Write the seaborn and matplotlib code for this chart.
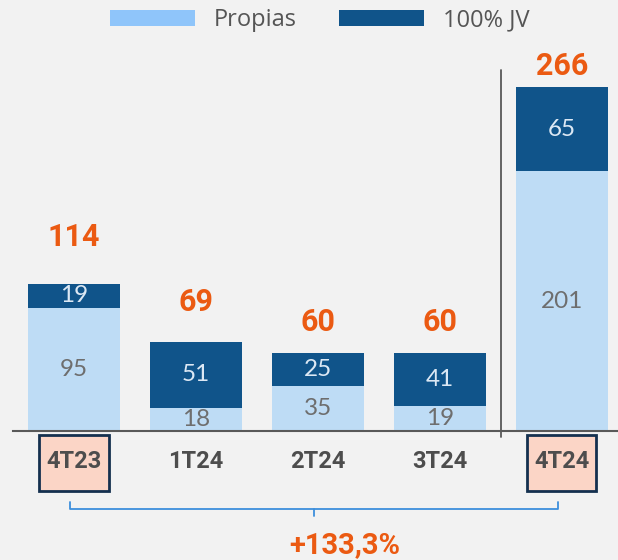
import matplotlib
matplotlib.use("Agg")
import matplotlib.pyplot as plt
from matplotlib.patches import Patch, Rectangle
import seaborn as sns
import pandas as pd

# data
quarters = ["4T23", "1T24", "2T24", "3T24", "4T24"]
propias = [95, 18, 35, 19, 201]
jv = [19, 51, 25, 41, 65]
totals = [114, 69, 60, 60, 266]
growth_label = "+133,3%"

# layout only
total_offsets = [36, 31, 24, 24, 16]
boxed = ["4T23", "4T24"]

BG = "#f2f2f2"
LIGHT = "#bedcf5"
LIGHT_LEG = "#8fc5fa"
DARK = "#10548a"
ORANGE = "#eb5a12"
AXIS = "#595959"
TXT = "#4d4d4d"

sns.set_theme(style="white")
plt.rcParams["font.family"] = ["Roboto", "DejaVu Sans"]

df = pd.DataFrame({"quarter": quarters, "propias": propias, "jv": jv, "total": totals})

fig = plt.figure(figsize=(6.18, 5.6), dpi=100, facecolor=BG)
ax = fig.add_axes([13 / 618, 129 / 560, 605 / 618, 388 / 560])
ax.set_facecolor(BG)

# stacked bars: totals in dark, propias drawn over the bottom part
sns.barplot(data=df, x="quarter", y="total", order=quarters, color=DARK,
            saturation=1, width=0.75, linewidth=0, ax=ax)
sns.barplot(data=df, x="quarter", y="propias", order=quarters, color=LIGHT,
            saturation=1, width=0.75, linewidth=0, ax=ax)

ax.set_xlim(-0.5, 4.46)
ax.set_ylim(0, 300)
ax.set_xlabel("")
ax.set_ylabel("")
ax.set_yticks([])
for s in ["top", "right", "left"]:
    ax.spines[s].set_visible(False)
ax.spines["bottom"].set_color(AXIS)
ax.spines["bottom"].set_linewidth(1.5)

# tick marks between categories, labels at categories
ax.set_xticks([-0.5, 0.5, 1.5, 2.5, 3.5])
ax.set_xticklabels([])
ax.set_xticks(range(len(quarters)), minor=True)
ax.set_xticklabels(quarters, minor=True, fontsize=17, fontweight="bold", color=TXT)
ax.tick_params(axis="x", which="major", direction="out", length=5, width=1.5, color=AXIS)
ax.tick_params(axis="x", which="minor", length=0, pad=14)

# boxes around the compared quarters (below the axis artists)
for q in boxed:
    i = quarters.index(q)
    ax.add_patch(Rectangle((i - 0.283, -46.5), 0.566, 43.3, facecolor="#fbd5c6",
                           edgecolor="#14304f", linewidth=2, clip_on=False, zorder=0.2))

# separator before last quarter
ax.plot([3.5, 3.5], [279, -4.6], color=AXIS, lw=1.3, clip_on=False)

# segment values
for i, (p, j) in enumerate(zip(propias, jv)):
    ax.text(i, p / 2, str(p), ha="center", va="center", fontsize=17.5,
            family=["Lato", "DejaVu Sans"], color="#6e6e6e")
    ax.text(i, p + j / 2, str(j), ha="center", va="center", fontsize=17.5,
            family=["Lato", "DejaVu Sans"], color="#dce8f4")

# totals
for i, (t, off) in enumerate(zip(totals, total_offsets)):
    ax.text(i, t + off, str(t), ha="center", va="center", fontsize=22,
            fontweight="bold", color=ORANGE)

# bracket under the axis from 4T23 to 4T24
bx0, bx1 = -0.03, 3.97
bc = (bx0 + bx1) / 2
ax.plot([bx0, bx0, bx1, bx1], [-54.9, -60.3, -60.3, -54.9], color="#3d8fdc",
        lw=1.3, clip_on=False)
ax.plot([bc, bc], [-60.3, -65.7], color="#3d8fdc", lw=1.3, clip_on=False)
ax.text(2.22, -88, growth_label, ha="center", va="center", fontsize=21,
        fontweight="bold", color=ORANGE, clip_on=False)

handles = [Patch(facecolor=LIGHT_LEG, edgecolor="none"), Patch(facecolor=DARK, edgecolor="none")]
fig.legend(handles, ["Propias", "100% JV"], loc="center",
           bbox_to_anchor=(320 / 618, 1 - 20 / 560), ncol=2, frameon=False,
           handlelength=3.6, handleheight=0.68, handletextpad=0.8,
           columnspacing=1.8, prop={"family": "Open Sans", "size": 17},
           labelcolor="#555555")

fig.savefig("out.png", dpi=100, facecolor=BG)
